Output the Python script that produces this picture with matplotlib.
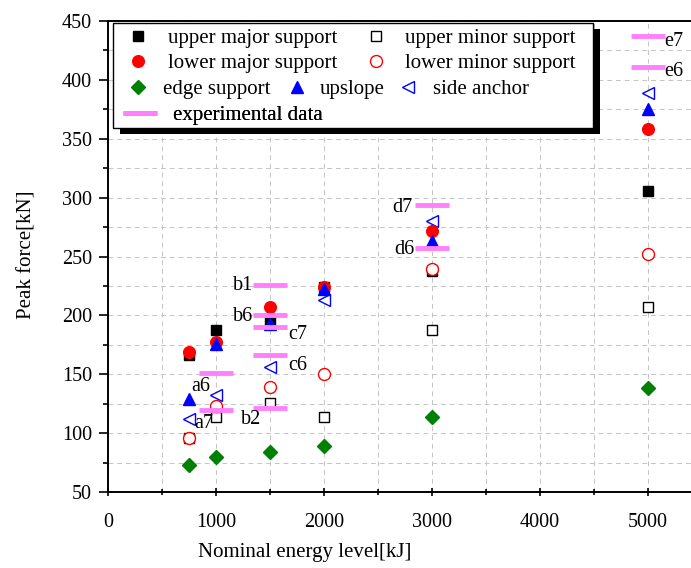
import matplotlib
matplotlib.use('Agg')
import matplotlib.pyplot as plt
from matplotlib.patches import Rectangle
from matplotlib.ticker import MultipleLocator

plt.rcParams['font.family'] = ['Liberation Serif', 'DejaVu Serif']

# データ
energy = [750, 1000, 1500, 2000, 3000, 5000]
upper_major = [166, 188, 194, 224, 238, 306]
upper_minor = [96, 114, 126, 114, 188, 207]
lower_major = [169, 177, 207, 224, 272, 358]
lower_minor = [96, 123, 139, 150, 239, 252]
edge_support = [73, 80, 84, 89, 114, 138]
upslope = [129, 176, 193, 222, 263, 375]
side_anchor = [112, 132, 156, 213, 280, 389]

exp_x = [1000, 1000, 1500, 1500, 1500, 1500, 1500, 3000, 3000, 5000, 5000]
exp_y = [151, 120, 226, 200, 190, 166, 121, 294, 257, 437, 411]
exp_labels = ['a6', 'a7', 'b1', 'b6', 'c7', 'c6', 'b2', 'd7', 'd6', 'e7', 'e6']
# ラベルの位置（points）
label_offsets = [(-11.2, -9.6), (-8.6, -10.3), (-19.4, -0.7), (-19.4, -0.7),
                 (19.8, -5.3), (19.8, -7.4), (-13.7, -7.9), (-20.9, -1.7),
                 (-19.8, -1.2), (18.4, -3.6), (18.7, -3.4)]

W, H = 691, 568
L, R, T, B = 108, 691, 21, 492

fig = plt.figure(figsize=(W / 100, H / 100), dpi=100)
ax = fig.add_axes([L / W, 1 - B / H, (R - L) / W, (B - T) / H])


def frac(px, py):
    """画像ピクセル -> 軸座標"""
    return (px - L) / (R - L), (B - py) / (B - T)


h_um, = ax.plot(energy, upper_major, 's', color='black', ms=7.2, ls='none', zorder=3)
h_umn, = ax.plot(energy, upper_minor, 's', mec='black', mfc='white', mew=1.0, ms=6.8, ls='none', zorder=2)
h_sa, = ax.plot(energy, side_anchor, '<', mec='blue', mfc='white', mew=1.0, ms=9, ls='none', zorder=2.5)
h_lmn, = ax.plot(energy, lower_minor, 'o', mec='red', mfc='white', mew=1.0, ms=8.6, ls='none', zorder=3.2)
h_lm, = ax.plot(energy, lower_major, 'o', color='red', ms=8.4, ls='none', zorder=3.4)
h_es, = ax.plot(energy, edge_support, 'D', color='#008000', ms=7.1, ls='none', zorder=3.5)
h_up, = ax.plot(energy, upslope, '^', color='blue', ms=9, ls='none', zorder=3.6)
h_exp, = ax.plot(exp_x, exp_y, '_', color='#ff80ff', ms=25, mew=3.5, ls='none', zorder=4)

for lab, x, y, off in zip(exp_labels, exp_x, exp_y, label_offsets):
    ax.annotate(lab, (x, y), xytext=off, textcoords='offset points',
                ha='center', va='center', fontsize=14.5, zorder=5)

ax.set_xlim(0, 5400)
ax.set_ylim(50, 450)
ax.xaxis.set_major_locator(MultipleLocator(1000))
ax.xaxis.set_minor_locator(MultipleLocator(500))
ax.yaxis.set_major_locator(MultipleLocator(50))
ax.yaxis.set_minor_locator(MultipleLocator(25))
ax.grid(True, which='both', color='#c4c4c4', lw=0.7, ls=(0, (5, 4)))
ax.set_axisbelow(True)

ax.tick_params(axis='y', which='major', direction='out', length=6.5, width=1.2, labelsize=14.5, pad=5)
ax.tick_params(axis='y', which='minor', direction='out', length=3.3, width=1.2)
ax.tick_params(axis='x', which='major', direction='inout', length=6, width=1.2, labelsize=14.5, pad=12)
ax.tick_params(axis='x', which='minor', direction='inout', length=5, width=1.2)
for s in ['left', 'bottom', 'top']:
    ax.spines[s].set_linewidth(1.4)
ax.spines['right'].set_visible(False)

ax.set_xlabel('Nominal energy level[kJ]', fontsize=15)
ax.set_ylabel('Peak force[kN]', fontsize=15)
ax.xaxis.set_label_coords(*frac(304.5, 543))
ax.yaxis.set_label_coords(frac(37, 0)[0], 0.503)

# 凡例（手作り）
x0, y0 = frac(112.7, 128.3)
x1, y1 = frac(592.7, 22.7)
sx, sy = 7 / (R - L), 6 / (B - T)
ax.add_patch(Rectangle((x0 + sx, y0 - sy), x1 - x0, y1 - y0, transform=ax.transAxes,
                       facecolor='black', edgecolor='none', zorder=6, clip_on=False))
ax.add_patch(Rectangle((x0, y0), x1 - x0, y1 - y0, transform=ax.transAxes,
                       facecolor='white', edgecolor='black', lw=1.0, zorder=6.1, clip_on=False))

FS = 15
em = FS * 100 / 72


def make_key(handle, label, mx, tx, py, hl=1.0):
    start = mx - hl * em / 2
    pad = (tx - start - hl * em) / em
    leg = ax.legend([handle], [label], loc='center left', bbox_to_anchor=frac(start, py),
                    frameon=False, borderpad=0, borderaxespad=0, handlelength=hl,
                    handletextpad=pad, fontsize=FS, numpoints=1)
    leg.set_zorder(7)
    ax.add_artist(leg)


make_key(h_um, 'upper major support', 138, 168, 38.3)
make_key(h_umn, 'upper minor support', 376, 405, 38.3)
make_key(h_lm, 'lower major support', 138, 168, 63.3)
make_key(h_lmn, 'lower minor support', 376, 405, 63.3)
make_key(h_es, 'edge support', 138, 163, 89.3)
make_key(h_up, 'upslope', 297, 320, 89.3)
make_key(h_sa, 'side anchor', 408, 433, 89.3)
make_key(h_exp, 'experimental data', 139.5, 173, 115, hl=1.8)

fig.savefig('out.png', dpi=100)
